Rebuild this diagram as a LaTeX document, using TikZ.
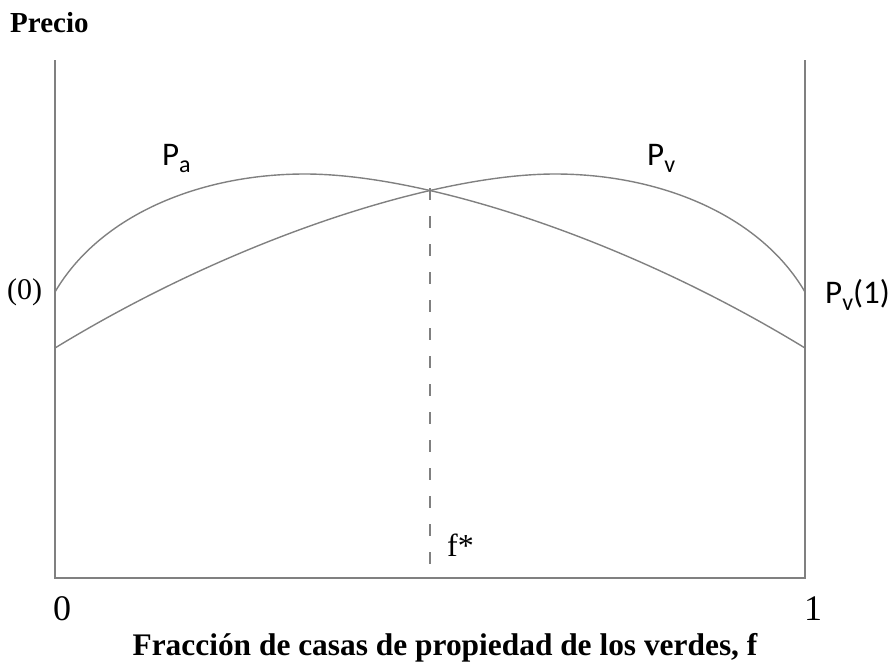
\documentclass[tikz,border=0pt]{standalone}
\usepackage{fontspec}
\setmainfont{Liberation Serif}
\newfontfamily\calfont{Carlito}
\usetikzlibrary{calc, positioning}
\definecolor{curvegray}{RGB}{128,128,128}
\newcommand{\lowtext}[1]{\raisebox{-7pt}{\fontsize{24}{24}\selectfont #1}}

\begin{document}
\begin{tikzpicture}[x=1pt, y=-1pt,
    axisline/.style={curvegray, line width=1.4pt},
    curveline/.style={curvegray, line width=1.4pt},
    guideline/.style={curvegray, line width=1.2pt, dash pattern=on 12pt off 16pt},
    plabel/.style={font=\calfont\fontsize{33}{33}\selectfont, inner sep=0pt, anchor=base west},
    numlabel/.style={font=\fontsize{36}{36}\selectfont, inner sep=0pt, anchor=base}]
    \useasboundingbox (0,0) rectangle (895,662);

    % axes
    \coordinate (tl) at (55,60);
    \coordinate (o) at (55,578);
    \coordinate (br) at (805,578);
    \coordinate (tr) at (805,60);
    \draw[axisline] (tl) -- (o) -- (br) -- (tr);

    % price curves
    \draw[curveline] (55,292) .. controls (100,215) and (200,174) .. (305,174)
        .. controls (420,174) and (620,235) .. (805,348);
    \draw[curveline] (55,348) .. controls (240,235) and (440,174) .. (555,174)
        .. controls (660,174) and (760,215) .. (805,292);

    % equilibrium share
    \coordinate (cross) at (430,188);
    \coordinate (fbase) at (430,578);
    \draw[guideline] (cross) -- (fbase);

    \node[plabel] (pa) at (162,165) {P\lowtext{a}};
    \node[plabel] (pv) at (647,165) {P\lowtext{v}};
    \node[plabel] (pvone) at (825,303) {P\lowtext{v}(1)};
    \node[font=\fontsize{30}{30}\selectfont, inner sep=0pt, anchor=base west] (pzero) at (7,299) {(0)};
    \node[font=\fontsize{32}{32}\selectfont, inner sep=0pt, anchor=base west] (fstar) at (447,556) {f*};
    \node[numlabel] (zero) at (62,620) {0};
    \node[numlabel] (one) at (813,620) {1};

    \node[font=\bfseries\fontsize{29}{29}\selectfont, inner sep=0pt, anchor=base west] (precio) at (10,32) {Precio};
    \node[font=\bfseries\fontsize{31.4}{31.4}\selectfont, inner sep=0pt, anchor=base] (fraccion) at (445,655)
        {Fracción de casas de propiedad de los verdes, f};
\end{tikzpicture}
\end{document}
